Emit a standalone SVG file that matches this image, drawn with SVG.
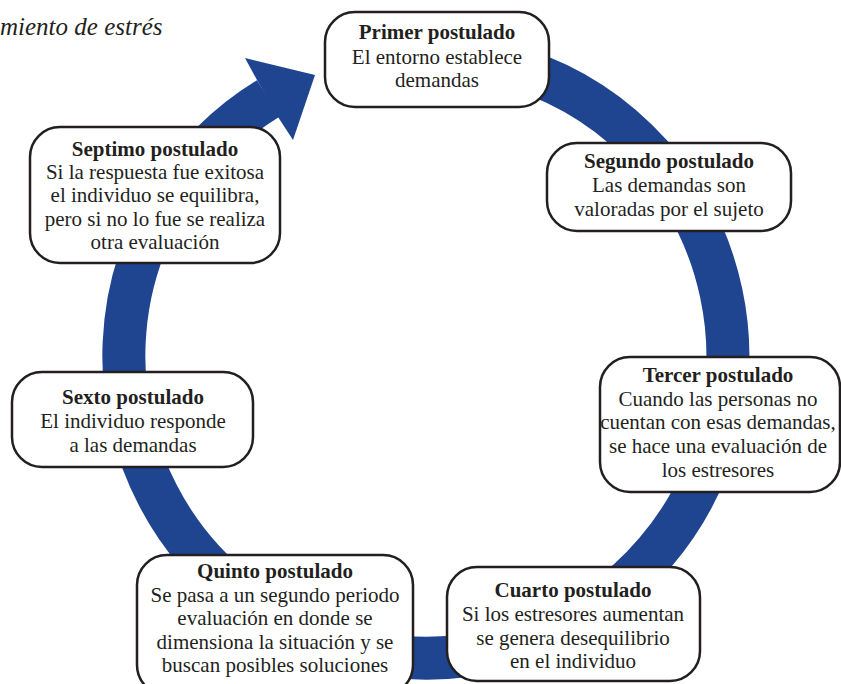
<svg xmlns="http://www.w3.org/2000/svg" width="841" height="684" viewBox="0 0 841 684">
<style>
.box{fill:#fff;stroke:#231f20;stroke-width:2.5}
text{font-family:"Liberation Serif","Times New Roman",serif;font-size:21px;fill:#231f20;text-anchor:middle}
.b{font-weight:bold}
.title{font-style:italic;font-size:25px;text-anchor:start}
</style>
<rect width="841" height="684" fill="#fff"/>
<text class="title" x="0" y="35">miento de estrés</text>
<g id="connectors">
<path d="M 384 57 A 302 302 0 1 1 268.2 98.5" fill="none" stroke="#1f4591" stroke-width="43"/>
<polygon points="245,58 315,75 293,140 278,117 257,80" fill="#1f4591"/>
</g>
<g id="n1"><rect class="box" x="325" y="12" width="224" height="95" rx="30"/>
<text x="437" y="39" class="b">Primer postulado</text><text x="437" y="64">El entorno establece</text><text x="437" y="87">demandas</text></g>
<g id="n2"><rect class="box" x="547" y="143" width="244" height="88" rx="30"/>
<text x="669" y="168" class="b">Segundo postulado</text><text x="669" y="192">Las demandas son</text><text x="669" y="216">valoradas por el sujeto</text></g>
<g id="n3"><rect class="box" x="600" y="357" width="240" height="135" rx="30"/>
<text x="718" y="382" class="b">Tercer postulado</text><text x="718" y="406">Cuando las personas no</text><text x="718" y="429">cuentan con esas demandas,</text><text x="718" y="453">se hace una evaluación de</text><text x="718" y="477">los estresores</text></g>
<g id="n4"><rect class="box" x="447" y="567" width="253" height="114" rx="30"/>
<text x="573" y="597" class="b">Cuarto postulado</text><text x="573" y="621">Si los estresores aumentan</text><text x="573" y="645">se genera desequilibrio</text><text x="573" y="668">en el individuo</text></g>
<g id="n5"><rect class="box" x="137" y="555" width="276" height="140" rx="30"/>
<text x="275" y="578" class="b">Quinto postulado</text><text x="275" y="602">Se pasa a un segundo periodo</text><text x="275" y="625">evaluación en donde se</text><text x="275" y="649">dimensiona la situación y se</text><text x="275" y="672">buscan posibles soluciones</text></g>
<g id="n6"><rect class="box" x="12" y="372" width="241" height="95" rx="30"/>
<text x="133" y="404" class="b">Sexto postulado</text><text x="133" y="428">El individuo responde</text><text x="133" y="452">a las demandas</text></g>
<g id="n7"><rect class="box" x="30" y="127" width="250" height="136" rx="30"/>
<text x="155" y="156" class="b">Septimo postulado</text><text x="155" y="179">Si la respuesta fue exitosa</text><text x="155" y="202">el individuo se equilibra,</text><text x="155" y="226">pero si no lo fue se realiza</text><text x="155" y="249">otra evaluación</text></g>
</svg>
